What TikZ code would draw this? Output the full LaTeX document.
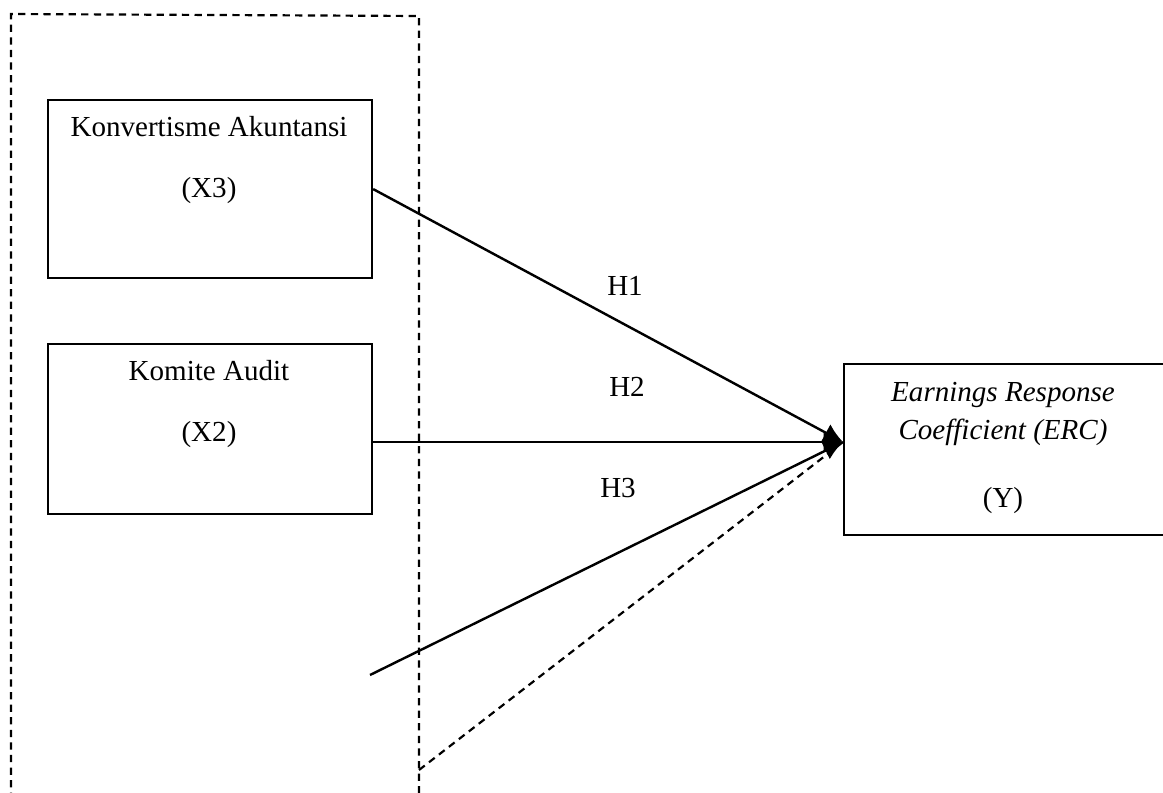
\documentclass[tikz,border=0pt]{standalone}
\usepackage{fontspec}
\setmainfont{Liberation Serif}
\usetikzlibrary{positioning}
\usetikzlibrary{arrows.meta}

\begin{document}
\begin{tikzpicture}[x=0.413pt, y=-0.413pt,
    every node/.style={font=\fontsize{12}{14}\selectfont, inner sep=0pt, anchor=base},
    varbox/.style={draw, line width=0.9pt, rectangle, anchor=north west},
    link/.style={line width=1pt, -{Latex[length=8pt, width=8pt]}},
    grouped/.style={line width=0.9pt, dash pattern=on 3pt off 2.2pt}]
            \useasboundingbox (0,0) rectangle (1163,793);
            % Kotak variabel
            \node[varbox, minimum width=324*0.413pt, minimum height=178*0.413pt] (X3) at (47,99) {};
            \node[varbox, minimum width=324*0.413pt, minimum height=170*0.413pt] (X2) at (47,343) {};
            \node[varbox, minimum width=330*0.413pt, minimum height=171*0.413pt] (ERC) at (843,363) {};
            
            % Teks
            \node (x3a) at (209,137) {Konvertisme Akuntansi};
            \node (x3b) at (209,198) {(X3)};
            \node (x2a) at (209,380) {Komite Audit};
            \node (x2b) at (209,441) {(X2)};
            \node (ya) at (1003,401) {\itshape Earnings Response};
            \node (yb) at (1003,439) {\itshape Coefficient (ERC)};
            \node (yc) at (1003,507) {(Y)};
            \node (h1) at (625,296) {H1};
            \node (h2) at (627,396) {H2};
            \node (h3) at (618,497) {H3};
            
            % Titik bantu
            \coordinate (tip) at (843,442);
            \coordinate (x1free) at (370,675);
            \coordinate (ctrl) at (419,770);
            
            % Garis
            \draw[grouped] (11,800) -- (11,14) -- (419,16) -- (419,800);
            \draw[link] (X3.east) -- (tip);
            \draw[link] (X2.east |- tip) -- (tip);
            \draw[link] (x1free) -- (tip);
            \draw[grouped] (ctrl) -- (tip);
          \end{tikzpicture}
\end{document}
